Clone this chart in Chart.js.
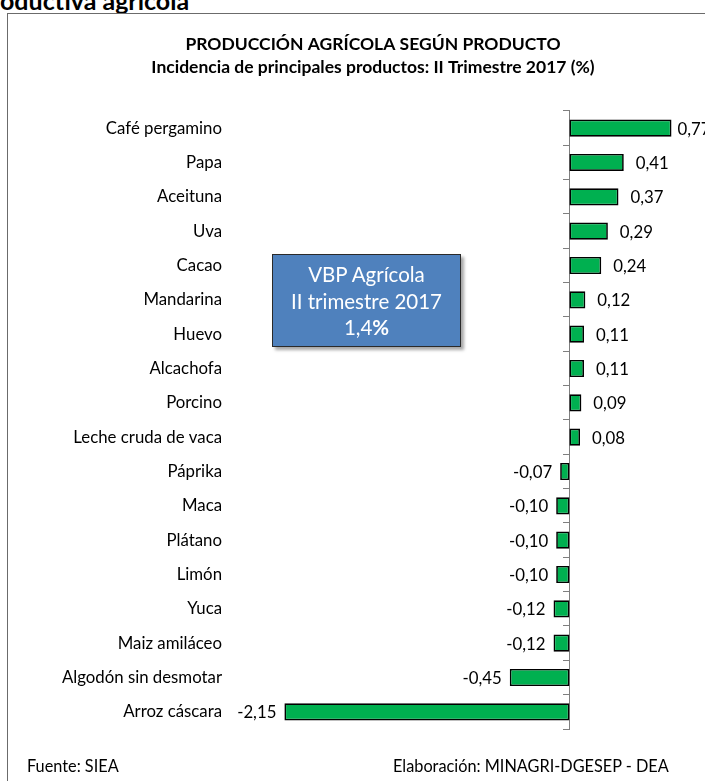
<!DOCTYPE html>
<html>
<head>
<meta charset="utf-8">
<script src="https://cdn.jsdelivr.net/npm/chart.js@4/dist/chart.umd.min.js"></script>
<style>
  html, body { margin: 0; padding: 0; background: #fff; }
  body { width: 705px; height: 781px; position: relative; overflow: hidden; font-family: Lato, "Liberation Sans", sans-serif; }
  #frame { position: absolute; left: 7px; top: 13px; width: 720px; height: 800px; border: 1px solid #6b6b6b; box-sizing: border-box; }
  #head { position: absolute; left: 0px; top: -12px; font-size: 25px; line-height: 25px; font-weight: bold; color: #000; white-space: nowrap; }
  #wrap { position: absolute; left: 0; top: 0; width: 705px; height: 781px; }
  #vbp { position: absolute; left: 272px; top: 254px; width: 189px; height: 93px; background: #4f81bd; border: 1.5px solid #2a2a2a; box-sizing: border-box; box-shadow: 3px 3px 3px rgba(0,0,0,0.35); color: #fff; text-align: center; font-size: 20.5px; line-height: 26.5px; padding-top: 6px; white-space: nowrap; }
  .foot { position: absolute; top: 756px; font-size: 16.3px; color: #000; white-space: nowrap; }
</style>
</head>
<body>
<div id="head">oductiva agrícola</div>
<div id="frame"></div>
<div id="wrap"><canvas id="c" width="705" height="781"></canvas></div>
<div id="vbp">VBP Agrícola<br>II trimestre 2017<br>1,4<b>%</b></div>
<div class="foot" style="left:27px;">Fuente: SIEA</div>
<div class="foot" style="left:393px;">Elaboración: MINAGRI-DGESEP - DEA</div>
<script>
const categories = ["Café pergamino","Papa","Aceituna","Uva","Cacao","Mandarina","Huevo","Alcachofa","Porcino","Leche cruda de vaca","Páprika","Maca","Plátano","Limón","Yuca","Maiz amiláceo","Algodón sin desmotar","Arroz cáscara"];
const values = [0.77,0.41,0.37,0.29,0.24,0.12,0.11,0.11,0.09,0.08,-0.07,-0.10,-0.10,-0.10,-0.12,-0.12,-0.45,-2.15];
const titleLines = ["PRODUCCIÓN AGRÍCOLA SEGÚN PRODUCTO","Incidencia de principales productos: II Trimestre 2017 (%)"];
const xMin = -2.5, xMax = 1.0;

const FONT = 'Lato, "Liberation Sans", sans-serif';
const fmt = v => v.toFixed(2).replace('.', ',');

const valueLabels = {
  id: 'valueLabels',
  afterDatasetsDraw(chart) {
    const ctx = chart.ctx;
    const meta = chart.getDatasetMeta(0);
    ctx.save();
    ctx.font = '16.8px ' + FONT;
    ctx.fillStyle = '#000';
    ctx.textBaseline = 'middle';
    meta.data.forEach((el, i) => {
      const v = values[i];
      const t = fmt(v);
      if (v >= 0) {
        const w = ctx.measureText(t).width;
        let x = el.x + 12;
        if (x + w > chart.width) x = el.x + 6;
        ctx.textAlign = 'left'; ctx.fillText(t, x, el.y + 1);
      } else {
        ctx.textAlign = 'right'; ctx.fillText(t, el.x - 8, el.y + 1);
      }
    });
    ctx.restore();
  }
};

new Chart(document.getElementById('c'), {
  type: 'bar',
  data: {
    labels: categories,
    datasets: [{
      data: values,
      backgroundColor: '#00b050',
      borderColor: '#000',
      borderWidth: 1.7,
      borderSkipped: false,
      categoryPercentage: 1.0,
      barPercentage: 0.5,
      yAxisID: 'y'
    }]
  },
  options: {
    indexAxis: 'y',
    responsive: false,
    animation: false,
    devicePixelRatio: 1,
    layout: { padding: { left: 44, right: 3, top: 20, bottom: 52 } },
    plugins: {
      legend: { display: false },
      tooltip: { enabled: false },
      title: {
        display: true,
        text: titleLines,
        color: '#000',
        font: { family: FONT, size: 17.5, weight: 'bold', lineHeight: 1.314 },
        padding: { top: 13, bottom: 32 }
      }
    },
    scales: {
      x: { display: false, min: xMin, max: xMax },
      y: {
        type: 'category',
        position: 'left',
        grid: { display: false, drawTicks: false },
        border: { display: false },
        ticks: { color: '#000', padding: 16, font: { family: FONT, size: 16.8 } },
        afterFit(s) { s.width = 194; }
      },
      y2: {
        type: 'category',
        labels: categories,
        position: { x: 0 },
        offset: true,
        grid: { display: true, drawOnChartArea: false, drawTicks: true, tickLength: 6, offset: true, color: '#7f7f7f', lineWidth: 1 },
        border: { display: true, color: '#7f7f7f', width: 1 },
        ticks: { display: false },
        afterFit(s) { s.width = 0; }
      }
    }
  },
  plugins: [valueLabels]
});
</script>
</body>
</html>
